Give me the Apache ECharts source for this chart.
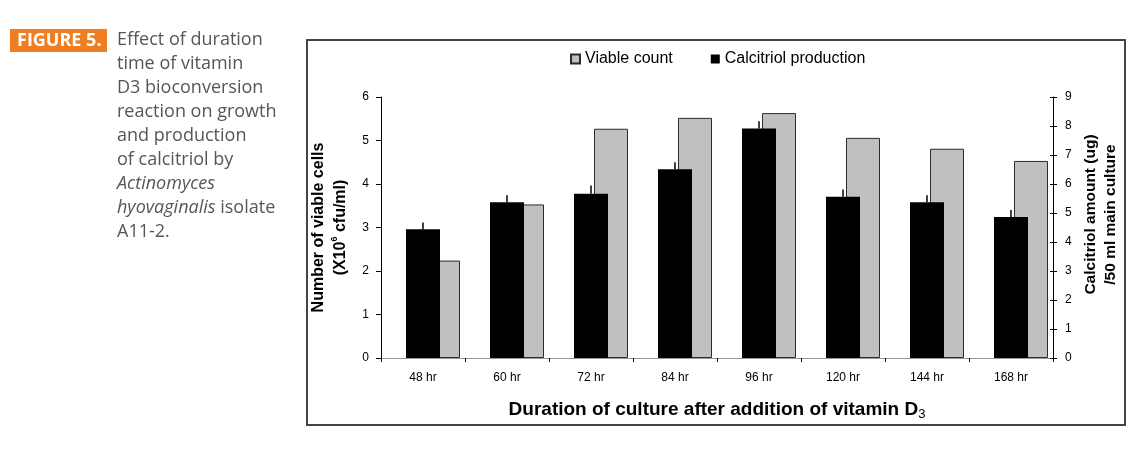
<!DOCTYPE html>
<html><head><meta charset="utf-8">
<script src="https://cdn.jsdelivr.net/npm/echarts@6/dist/echarts.min.js"></script>
<style>html,body{margin:0;padding:0;background:#fff}#c{width:1143px;height:452px}</style>
</head><body><div id="c"></div>
<script>
const categories = ['48 hr', '60 hr', '72 hr', '84 hr', '96 hr', '120 hr', '144 hr', '168 hr'];
const viableCount = [2.24, 3.53, 5.27, 5.52, 5.63, 5.06, 4.81, 4.53];
const calcitriol = [4.44, 5.37, 5.66, 6.51, 7.91, 5.56, 5.37, 4.86];
const calcitriolErr = [0.23, 0.24, 0.29, 0.24, 0.25, 0.25, 0.24, 0.24];
const captionLines = ['Effect of duration', 'time of vitamin', 'D3 bioconversion', 'reaction on growth', 'and production', 'of calcitriol by'];

const AR = '"Liberation Sans", Arial, sans-serif';
const CAP = '"Open Sans", "Noto Sans", sans-serif';

const chart = echarts.init(document.getElementById('c'), null, {renderer: 'canvas'});

const captionText = captionLines.map(l => '{n|' + l + '}').join('\n') +
  '\n{i|Actinomyces}\n{i|hyovaginalis}{n| isolate}\n{n|A11-2.}';

const option = {
  animation: false,
  backgroundColor: '#fff',
  legend: {
    left: 565, top: 46,
    itemWidth: 9, itemHeight: 9, itemGap: 38,
    icon: 'rect',
    data: ['Viable count', 'Calcitriol production'],
    textStyle: {fontFamily: AR, fontSize: 16, color: '#000', padding: [0, 0, 0, 0]}
  },
  grid: [
    {left: 381, top: 97, width: 672, height: 261, containLabel: false},
    {left: 401, top: 97, width: 672, height: 261, containLabel: false}
  ],
  xAxis: [
    {
      type: 'category', gridIndex: 0, data: categories, position: 'bottom',
      boundaryGap: true,
      axisLine: {lineStyle: {color: '#000', width: 1}},
      axisTick: {show: true, length: 4, lineStyle: {color: '#000'}},
      axisLabel: {fontFamily: AR, fontSize: 12, color: '#000', margin: 14},
      name: '{t|Duration of culture after addition of vitamin D}{s|3}',
      nameLocation: 'middle', nameGap: 41,
      nameTextStyle: {
        rich: {
          t: {fontFamily: AR, fontSize: 19, fontWeight: 'bold', color: '#000', lineHeight: 22},
          s: {fontFamily: AR, fontSize: 13, color: '#000', lineHeight: 13, verticalAlign: 'bottom'}
        }
      }
    },
    {
      type: 'category', gridIndex: 0, data: categories, position: 'top',
      axisLine: {lineStyle: {color: '#999', width: 1}},
      axisTick: {show: false}, axisLabel: {show: false}
    },
    {
      type: 'category', gridIndex: 1, data: categories, position: 'bottom', show: false
    }
  ],
  yAxis: [
    {
      type: 'value', gridIndex: 0, position: 'left', min: 0, max: 6, interval: 1,
      axisLine: {show: true, lineStyle: {color: '#000', width: 1}},
      axisTick: {show: true, length: 5, lineStyle: {color: '#000'}},
      axisLabel: {fontFamily: AR, fontSize: 12, color: '#000', margin: 12},
      splitLine: {show: false},
      name: '{a|Number of viable cells}\n{b|(X10}{s|6}{b| cfu/ml)}',
      nameLocation: 'middle', nameRotate: 90, nameGap: 29,
      nameTextStyle: {
        align: 'center',
        rich: {
          a: {fontFamily: AR, fontSize: 16, fontWeight: 'bold', color: '#000', lineHeight: 22, align: 'center'},
          b: {fontFamily: AR, fontSize: 16, fontWeight: 'bold', color: '#000', lineHeight: 22},
          s: {fontFamily: AR, fontSize: 9, fontWeight: 'bold', color: '#000', lineHeight: 12, verticalAlign: 'top'}
        }
      }
    },
    {
      type: 'value', gridIndex: 0, position: 'right', min: 0, max: 9, interval: 1,
      axisLine: {show: true, lineStyle: {color: '#000', width: 1}},
      axisTick: {show: true, length: 4, lineStyle: {color: '#000'}},
      axisLabel: {fontFamily: AR, fontSize: 12, color: '#000', margin: 12},
      splitLine: {show: false},
      name: '{a|Calcitriol amount (ug)}\n{a|/50 ml main culture}',
      nameLocation: 'middle', nameRotate: 90, nameGap: 25,
      nameTextStyle: {
        align: 'center',
        padding: [0, 0, 0, 26],
        rich: {
          a: {fontFamily: AR, fontSize: 15.5, fontWeight: 'bold', color: '#000', lineHeight: 20, align: 'center'}
        }
      }
    },
    {
      type: 'value', gridIndex: 0, position: 'right', min: 0, max: 9, interval: 1,
      axisLine: {show: false},
      axisTick: {show: true, inside: true, length: 3, lineStyle: {color: '#000'}},
      axisLabel: {show: false}, splitLine: {show: false}
    },
    {
      type: 'value', gridIndex: 1, min: 0, max: 6, interval: 1, show: false, splitLine: {show: false}
    }
  ],
  series: [
    {
      name: 'Viable count', type: 'bar', xAxisIndex: 2, yAxisIndex: 3,
      data: viableCount, barWidth: 34, z: 2,
      itemStyle: {color: '#c0c0c0', borderColor: '#2b2b2b', borderWidth: 1}
    },
    {
      name: 'Calcitriol production', type: 'bar', xAxisIndex: 0, yAxisIndex: 1,
      data: calcitriol, barWidth: 34, z: 3,
      itemStyle: {color: '#000', borderColor: '#000', borderWidth: 0}
    },
    {
      name: 'err', type: 'custom', xAxisIndex: 0, yAxisIndex: 1, z: 4,
      data: calcitriol.map((v, i) => [i, v, calcitriolErr[i]]),
      renderItem: function (params, api) {
        const x = api.value(0), v = api.value(1), e = api.value(2);
        const p0 = api.coord([x, v]);
        const p1 = api.coord([x, v + e]);
        return {type: 'line', shape: {x1: p0[0], y1: p0[1], x2: p1[0], y2: p1[1]},
          style: {stroke: '#000', lineWidth: 1.5}};
      }
    }
  ],
  graphic: [
    {type: 'rect', z: -10, shape: {x: 307, y: 40, width: 818, height: 385},
      style: {fill: 'none', stroke: '#444', lineWidth: 2}},
    {type: 'rect', shape: {x: 10, y: 29, width: 97, height: 23}, style: {fill: '#EF7D22'}},
    {type: 'text', x: 17, y: 40.5, style: {text: 'FIGURE 5.', fill: '#fff', font: 'bold 18px ' + CAP, textVerticalAlign: 'middle'}},
    {type: 'text', x: 117, y: 28, style: {
      text: captionText,
      rich: {
        n: {fontFamily: CAP, fontSize: 18, fill: '#555659', lineHeight: 24},
        i: {fontFamily: CAP, fontSize: 18, fontStyle: 'italic', fill: '#555659', lineHeight: 24}
      }
    }}
  ]
};
chart.setOption(option);
</script>
</body></html>
